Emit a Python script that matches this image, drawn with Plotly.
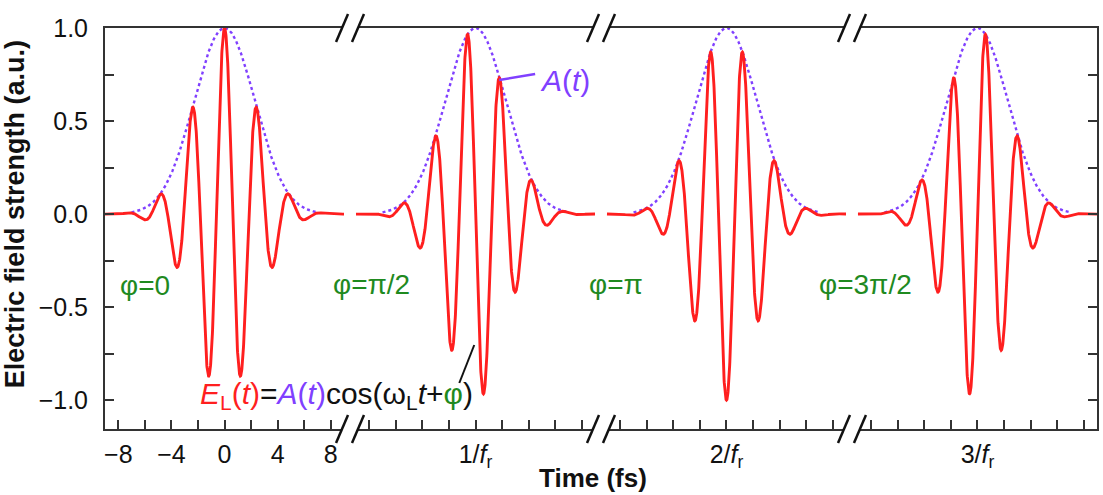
import numpy as np
import plotly.graph_objects as go

# ---- values ----
phase_pi = [0.0, 0.5, 1.0, 1.5]                 # carrier-envelope phase, units of pi
phase_labels = ["φ=0", "φ=π/2", "φ=π", "φ=3π/2"]
center_labels = ["0", "1/<i>f</i><sub>r</sub>", "2/<i>f</i><sub>r</sub>", "3/<i>f</i><sub>r</sub>"]
pulse_fwhm_fs = 5.4        # envelope FWHM
carrier_period_fs = 2.45   # optical period
seg_spacing = 18.9         # displayed spacing between pulses on the broken axis
seg_half = 9.0             # drawn half-window of each pulse (fs)
env_half = 7.0             # drawn half-window of the envelope (fs)
minor_ticks_fs = list(range(-8, 9, 2))
y_ticks = [-1.0, -0.75, -0.5, -0.25, 0.0, 0.25, 0.5, 0.75, 1.0]

RED = "#FF1F1F"
PURPLE = "#8040FF"
GREEN = "#1F8A1F"
AXC = "#333333"
FONT = "Liberation Sans, Arial, sans-serif"

W, H = 1103, 495
L, R, T, B = 105, 4, 28, 66
XR = [-seg_half, 3 * seg_spacing + seg_half]
YR = [-1.155, 1.0]
PW, PH = W - L - R, H - T - B


def px_x(px):
    return XR[0] + (px - L) / PW * (XR[1] - XR[0])


def px_y(py):
    return YR[1] - (py - T) / PH * (YR[1] - YR[0])


def paper_x(px):
    return (px - L) / PW


def paper_y(py):
    return 1 - (py - T) / PH


omega = 2 * np.pi / carrier_period_fs
a = 4 * np.log(2) / pulse_fwhm_fs ** 2
fig = go.Figure()
t = np.linspace(-seg_half, seg_half, 1501)
te = np.linspace(-env_half, env_half, 601)
for k, ph in enumerate(phase_pi):
    env = np.exp(-a * te ** 2)
    fig.add_trace(go.Scatter(x=te + k * seg_spacing, y=env, mode="lines",
                             line=dict(color=PURPLE, width=2.4, dash="dot"),
                             hoverinfo="skip", showlegend=False))
    e = np.exp(-a * t ** 2) * np.cos(omega * t + ph * np.pi)
    fig.add_trace(go.Scatter(x=t + k * seg_spacing, y=e, mode="lines",
                             line=dict(color=RED, width=2.9),
                             hoverinfo="skip", showlegend=False))

tickvals, ticktext = [], []
for k in range(4):
    for j in minor_ticks_fs:
        tickvals.append(k * seg_spacing + j)
        if k == 0:
            ticktext.append((str(j) if j >= 0 else "−" + str(-j)) if j % 4 == 0 else "")
        else:
            ticktext.append(center_labels[k] if j == 0 else "")

ytext = []
for v in y_ticks:
    if abs(v * 2 - round(v * 2)) < 1e-9:
        ytext.append(("−" if v < 0 else "") + f"{abs(v):.1f}")
    else:
        ytext.append("")

fig.update_layout(
    width=W, height=H,
    margin=dict(l=L, r=R, t=T, b=B),
    paper_bgcolor="white", plot_bgcolor="white",
    font=dict(family=FONT, size=25, color="#111111"),
    xaxis=dict(range=XR, showgrid=False, zeroline=False, showline=True,
               linecolor=AXC, linewidth=2, mirror=True,
               ticks="inside", ticklen=9, tickwidth=1.5, tickcolor=AXC,
               tickmode="array", tickvals=tickvals, ticktext=ticktext,
               tickfont=dict(size=25), ticklabelstandoff=2),
    yaxis=dict(range=YR, showgrid=False, zeroline=False, showline=True,
               linecolor=AXC, linewidth=2, mirror="ticks",
               ticks="inside", ticklen=9, tickwidth=1.5, tickcolor=AXC,
               tickmode="array", tickvals=y_ticks, ticktext=ytext,
               tickfont=dict(size=25), ticklabelstandoff=10),
)


def note(x, y, text, size, color, xref="x", yref="y", angle=0):
    fig.add_annotation(xref=xref, yref=yref, x=x, y=y, text=text, textangle=angle,
                       xanchor="center", yanchor="middle", showarrow=False,
                       font=dict(size=size, color=color))


# axis titles
note(paper_x(15), paper_y(214), "<b>Electric field strength (a.u.)</b>", 27, "#111111",
     xref="paper", yref="paper", angle=-90)
note(paper_x(594), paper_y(478), "<b>Time (fs)</b>", 26, "#111111",
     xref="paper", yref="paper")

# phase labels
phase_pos = [(145, 285), (372, 284), (617, 284), (867, 284)]
for lab, (px, py) in zip(phase_labels, phase_pos):
    note(px_x(px), px_y(py), lab, 28, GREEN)

# A(t) label + pointer
note(px_x(566), px_y(80), "<i>A</i>(<i>t</i>)", 30, PURPLE)
fig.add_shape(type="line", x0=px_x(500), y0=px_y(80), x1=px_x(536), y1=px_y(74),
              line=dict(color=PURPLE, width=2.5))

# formula + pointer
formula = (f'<span style="color:{RED}"><i>E</i><sub>L</sub>(<i>t</i>)</span>='
           f'<span style="color:{PURPLE}"><i>A</i>(<i>t</i>)</span>cos(ω<sub>L</sub><i>t</i>+'
           f'<span style="color:{GREEN}">φ</span>)')
note(px_x(337), px_y(395), formula, 30, "#111111")
fig.add_shape(type="line", x0=px_x(460), y0=px_y(383), x1=px_x(475), y1=px_y(345),
              line=dict(color="#111111", width=2))

# axis break marks
sx = (XR[1] - XR[0]) / PW  # fs per px
sy = 1.0 / PH               # paper per px
for k in range(1, 4):
    c = (k - 1) * seg_spacing + seg_half + (seg_spacing - 2 * seg_half) / 2
    for yp in (0.0, 1.0):
        fig.add_shape(type="rect", xref="x", yref="paper",
                      x0=c - 8 * sx, x1=c + 8 * sx, y0=yp - 4 * sy, y1=yp + 4 * sy,
                      fillcolor="white", line=dict(width=0), layer="above")
        for off in (-8, 8):
            fig.add_shape(type="line", xref="x", yref="paper",
                          x0=c + (off - 6) * sx, y0=yp - 14 * sy,
                          x1=c + (off + 6) * sx, y1=yp + 14 * sy,
                          line=dict(color="#111111", width=2.5), layer="above")

fig.write_html("out.html")
